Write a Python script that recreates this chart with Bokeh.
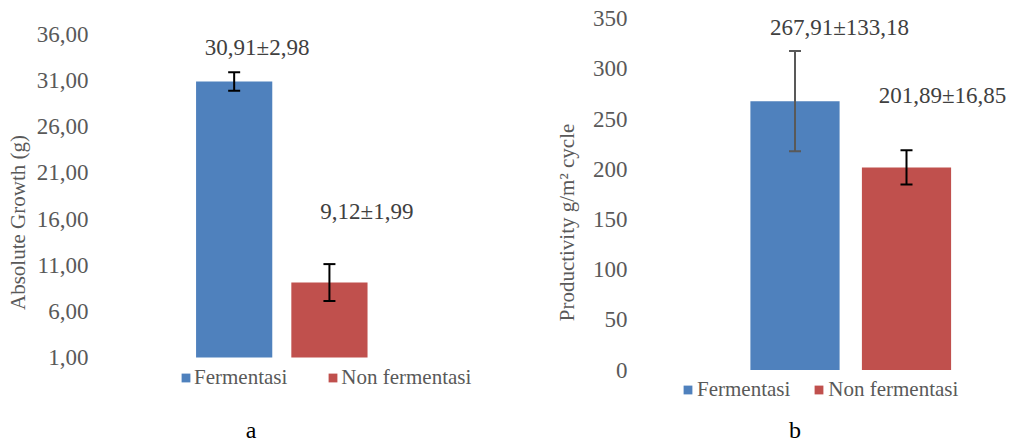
from bokeh.plotting import figure
from bokeh.models import (ColumnDataSource, Range1d, FixedTicker, Whisker, TeeHead,
                          Legend, LegendItem, Label, Title)
from bokeh.layouts import row
from bokeh.embed import file_html
from bokeh.resources import INLINE
from bokeh.core.properties import value

# ---------------- data ----------------
categories = ["Fermentasi", "Non fermentasi"]
colors = ["#4F81BD", "#C0504D"]

# panel a: Absolute Growth (g)
growth_mean = [30.91, 9.12]
growth_sd_text = [2.98, 1.99]
growth_err = [1.0, 2.0]          # error bar half-length as drawn
growth_ticks = [1, 6, 11, 16, 21, 26, 31, 36]

# panel b: Productivity g/m2 cycle
prod_mean = [267.91, 201.89]
prod_sd_text = [133.18, 16.85]
prod_err = [50.0, 17.0]          # error bar half-length as drawn
prod_ticks = [0, 50, 100, 150, 200, 250, 300, 350]

FONT = "Liberation Serif"
GRAY = "#595959"
H = 444


def fmt(v):
    return f"{v:.2f}".replace(".", ",")


def make_panel(width, frame_left, xr, base, base_px, px_per_unit,
               ticks, tick_labels, ylabel, title_standoff, title_offset,
               mean, err, sd_text, err_colors, label_dx, label_dy, legend_loc,
               legend_spacing, legend_standoff, caption, caption_x, caption_px):
    # frame covers whole height; base value sits at pixel base_px from top
    y0 = base - (H - base_px) / px_per_unit
    y1 = base + base_px / px_per_unit
    p = figure(width=width, height=H, output_backend="svg",
               toolbar_location=None, x_range=Range1d(*xr), y_range=Range1d(y0, y1))
    p.min_border = 0
    p.min_border_left = frame_left
    p.min_border_right = 0
    p.min_border_bottom = 0
    p.min_border_top = 0
    p.outline_line_color = None
    p.background_fill_color = "white"
    p.border_fill_color = "white"
    p.xgrid.visible = False
    p.ygrid.visible = False
    p.xaxis.visible = False

    ax = p.yaxis[0]
    ax.ticker = FixedTicker(ticks=ticks)
    ax.major_label_overrides = {t: l for t, l in zip(ticks, tick_labels)}
    ax.axis_line_color = None
    ax.major_tick_line_color = None
    ax.minor_tick_line_color = None
    ax.major_label_standoff = 7
    ax.major_label_text_font = FONT
    ax.major_label_text_font_size = "23px"
    ax.major_label_text_color = GRAY

    p.add_layout(Title(text=ylabel, align="center", offset=title_offset,
                       standoff=title_standoff, text_font=FONT,
                       text_font_size="21px", text_font_style="normal",
                       text_color=GRAY), "left")

    idx = list(range(len(categories)))
    src = ColumnDataSource(dict(
        x=idx, top=mean, cat=categories, color=colors,
        upper=[m + e for m, e in zip(mean, err)],
        lower=[m - e for m, e in zip(mean, err)],
        label=[f"{fmt(m)}±{fmt(s)}" for m, s in zip(mean, sd_text)],
        dx=label_dx, dy=label_dy,
    ))
    renderers = []
    for i in idx:
        r = p.vbar(x=[i], top=[mean[i]], bottom=base,
                   width=0.8, fill_color=colors[i], line_color=None)
        renderers.append(r)

    for i in idx:
        wsrc = ColumnDataSource(dict(x=[i], upper=[src.data["upper"][i]],
                                     lower=[src.data["lower"][i]]))
        w = Whisker(source=wsrc, base="x", upper="upper", lower="lower",
                    dimension="height", line_color=err_colors[i], line_width=2,
                    level="overlay",
                    upper_head=TeeHead(size=12, line_color=err_colors[i], line_width=2),
                    lower_head=TeeHead(size=12, line_color=err_colors[i], line_width=2))
        p.add_layout(w)

    p.text(x="x", y="upper", text="label", x_offset="dx", y_offset="dy",
           source=src, text_font=value(FONT), text_font_size="23px",
           text_color="#404040", text_align="center", text_baseline="middle")

    legend = Legend(items=[LegendItem(label=categories[i], renderers=[renderers[i]])
                           for i in idx],
                    location=legend_loc, orientation="horizontal",
                    glyph_width=11, glyph_height=11, label_standoff=legend_standoff,
                    spacing=legend_spacing, padding=0, margin=0,
                    border_line_color=None, background_fill_alpha=0,
                    label_text_font=FONT, label_text_font_size="21px",
                    label_text_color=GRAY)
    p.add_layout(legend, "center")

    p.add_layout(Label(x=caption_x, y=base, y_offset=-(caption_px - base_px),
                       x_units="data", text=caption, text_font=FONT,
                       text_font_size="24px", text_color="black",
                       text_align="center", text_baseline="middle"))
    return p


# panel a: frame x 100..500, y=1 at pixel 357
pa = make_panel(
    width=500, frame_left=100,
    xr=(-133 / 95.5, 267 / 95.5), base=1, base_px=357, px_per_unit=9.229,
    ticks=growth_ticks, tick_labels=[fmt(t) for t in growth_ticks],
    ylabel="Absolute Growth (g)", title_standoff=7, title_offset=25,
    mean=growth_mean, err=growth_err, sd_text=growth_sd_text,
    err_colors=["black", "black"], label_dx=[23, 37.5], label_dy=[-25, -53],
    legend_loc=(79, 54), legend_spacing=40, legend_standoff=3,
    caption="a", caption_x=(250 - 233) / 95.5, caption_px=429)

# panel b: frame x 140..513 (fig coords), y=0 at pixel 369.5
pb = make_panel(
    width=513, frame_left=140,
    xr=(-154.5 / 111.5, 218.5 / 111.5), base=0, base_px=369.5, px_per_unit=1.0034,
    ticks=prod_ticks, tick_labels=[str(t) for t in prod_ticks],
    ylabel="Productivity g/m² cycle", title_standoff=21, title_offset=65,
    mean=prod_mean, err=prod_err, sd_text=prod_sd_text,
    err_colors=[GRAY, "black"], label_dx=[44.5, 36], label_dy=[-24, -55],
    legend_loc=(42, 42), legend_spacing=23, legend_standoff=4,
    caption="b", caption_x=0.0, caption_px=429)

layout = row(pa, pb)
open("out.html", "w").write(file_html(layout, INLINE))
